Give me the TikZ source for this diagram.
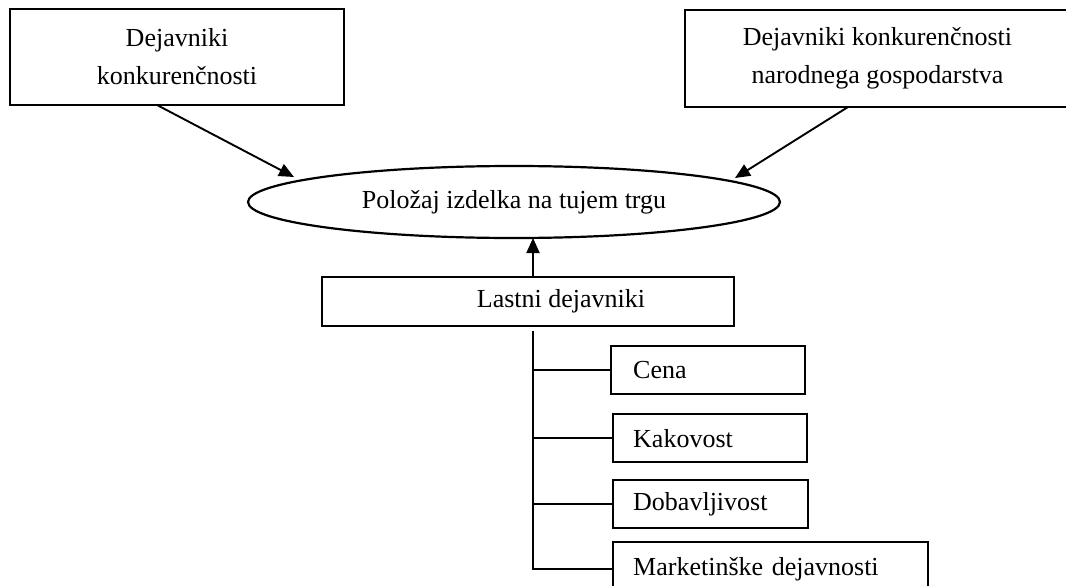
\documentclass[tikz,border=0pt]{standalone}
\usepackage{fontspec}
\setmainfont{Liberation Serif}
\usetikzlibrary{shapes.geometric,arrows.meta}
\begin{document}
\begin{tikzpicture}[x=1pt,y=-1pt,
  every node/.style={font=\fontsize{26pt}{38pt}\selectfont},
  box/.style={draw, line width=2.4pt, inner sep=0pt, align=center},
  sub/.style={draw, line width=2.4pt, inner sep=0pt, anchor=north west, minimum height=48pt, align=left},
  conn/.style={line width=1.9pt},
  arr/.style={line width=1.9pt, -{Triangle[length=15pt,width=13pt]}}]
\useasboundingbox (0,0) rectangle (1066,586);
\clip (0,0) rectangle (1066,586);
\fill[white] (0,0) rectangle (1066,586);
% top boxes
\node[box, minimum width=334pt, minimum height=96pt] (lb) at (177,57) {Dejavniki\\konkurenčnosti};
\node[box, minimum width=385pt, minimum height=97pt] (rb) at (877.5,58.5) {Dejavniki konkurenčnosti\\narodnega gospodarstva};
% ellipse
\node[draw, ellipse, line width=2.2pt, inner sep=0pt, minimum width=532pt, minimum height=72pt] (ell) at (514,202) {Položaj izdelka na tujem trgu};
% own factors box
\node[box, minimum width=412pt, minimum height=49pt] (lastni) at (528,301.5) {\hspace*{66pt}Lastni dejavniki};
% sub boxes
\node[sub, minimum width=194pt, text width=194pt] (cena) at (610,345) {\hspace*{22pt}Cena};
\node[sub, minimum width=194pt, text width=194pt] (kak) at (612,413) {\hspace*{20pt}Kakovost};
\node[sub, minimum width=195pt, text width=195pt] (dob) at (612,479) {\hspace*{20pt}Dobavljivost};
\node[sub, minimum width=315pt, minimum height=54pt, text width=315pt] (mkt) at (612,541) {\hspace*{20pt}Marketinške dejavnosti};
% arrows
\coordinate (la) at (157,105);
\coordinate (lt) at (294,177);
\coordinate (ra) at (848,107);
\coordinate (rt) at (735,178);
\coordinate (vt) at (533,238);
\draw[arr] (la) -- (lt);
\draw[arr] (ra) -- (rt);
\draw[arr] (lastni.north -| vt) -- (vt);
% tree
\coordinate (top) at (533,331);
\draw[conn] (top) |- (mkt.west);
\draw[conn] (top |- cena.west) -- (cena.west);
\draw[conn] (top |- kak.west) -- (kak.west);
\draw[conn] (top |- dob.west) -- (dob.west);
\end{tikzpicture}
\end{document}
